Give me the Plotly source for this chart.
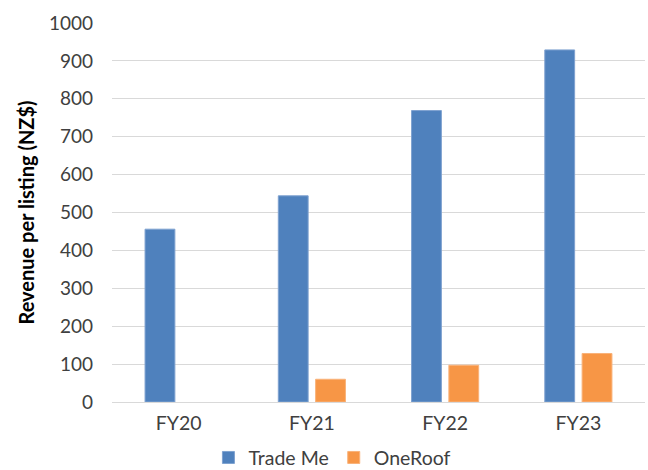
import plotly.graph_objects as go

categories = ["FY20", "FY21", "FY22", "FY23"]
trade_me = [456, 544, 769, 929]
oneroof = [None, 60, 97, 128]
y_ticks = [0, 100, 200, 300, 400, 500, 600, 700, 800, 900, 1000]

FONT = "Lato, 'Open Sans', sans-serif"

fig = go.Figure()
fig.add_trace(go.Bar(name="Trade Me", x=categories, y=trade_me,
                     marker=dict(color="#4F81BD", line=dict(color="#7FA2D0", width=1))))
fig.add_trace(go.Bar(name="OneRoof", x=categories, y=oneroof,
                     marker=dict(color="#F79646", line=dict(color="#F9B27A", width=1))))

fig.update_layout(
    width=648, height=470,
    margin=dict(l=112, r=3, t=23, b=68, autoexpand=False),
    paper_bgcolor="white", plot_bgcolor="white",
    barmode="group", bargap=0.44, bargroupgap=0.2,
    font=dict(family=FONT, size=19, color="#404040"),
    showlegend=True,
    legend=dict(orientation="h", xref="container", yref="container", x=0.513, xanchor="center",
                y=0.026, yanchor="middle", bgcolor="rgba(0,0,0,0)",
                font=dict(size=19.5, color="#404040"), itemwidth=30, traceorder="normal"),
    xaxis=dict(showgrid=False, showline=False, ticks="", tickfont=dict(size=19.5, color="#404040"),
               ticklabelstandoff=7),
    yaxis=dict(range=[0, 1000], tickvals=y_ticks, showgrid=True, gridcolor="#D9D9D9", gridwidth=1,
               zeroline=True, zerolinecolor="#D9D9D9", zerolinewidth=1, showline=False,
               ticks="", tickfont=dict(size=19, color="#404040"), ticklabelstandoff=18,
               title=dict(text="<b>Revenue per listing (NZ$)</b>", font=dict(size=20, color="#000000"),
                          standoff=8)),
)

fig.write_html("out.html")
